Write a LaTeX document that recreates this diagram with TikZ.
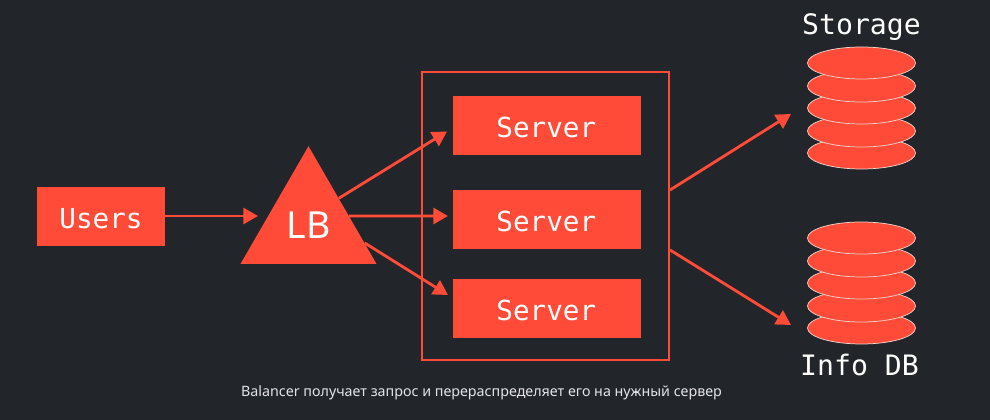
\documentclass[tikz,border=0pt]{standalone}
\usepackage{fontspec}
\usetikzlibrary{arrows.meta,shapes.geometric}
\setmainfont{Noto Sans}
\newfontfamily\labelfont{DejaVu Sans Mono}[Scale=1]
\definecolor{bgc}{HTML}{22262A}
\definecolor{red1}{HTML}{FF4B37}
\definecolor{rim}{HTML}{F4D3CC}
\definecolor{capc}{HTML}{E4E4E4}
\tikzset{
  x=0.75pt,y=-0.75pt,
  boxn/.style={fill=red1,draw=none,minimum width=141pt,minimum height=44.25pt,inner sep=0pt,text=white,text height=17.6pt,text depth=0pt,font=\labelfont\fontsize{20.7}{24}\selectfont},
  disk/.style={ellipse,fill=red1,draw=rim,line width=0.55pt,minimum width=81pt,minimum height=24pt,inner sep=0pt},
  conn/.style={draw=red1,line width=2.1pt,-{Triangle[length=11pt,width=12pt]}},
  title/.style={text=white,font=\labelfont\fontsize{21.1}{24}\selectfont,inner sep=0pt},
}
\begin{document}
\begin{tikzpicture}
\path[fill=bgc] (0,0) rectangle (990,420);
\useasboundingbox (0,0) rectangle (990,420);
\node[draw=red1,line width=1.6pt,minimum width=185.25pt,minimum height=216pt,inner sep=0pt] (frame) at (545.5,216) {};
\node[boxn,minimum width=96pt] (users) at (101,216.5) {Users};
\node[boxn] (s1) at (547,125.5) {\kern-1pt Server};
\node[boxn] (s2) at (547,219.5) {\kern-1pt Server};
\node[boxn] (s3) at (547,308.5) {\kern-1pt Server};
\node[regular polygon,regular polygon sides=3,fill=red1,minimum size=117.8pt,inner sep=0pt,text=white,font=\fontsize{28}{30}\selectfont] (lb) at (308.5,224.7) {LB};
\foreach \n/\y in {e/153,d/131,c/108,b/86,a/63} \node[disk] (st\n) at (861.5,\y) {};
\foreach \n/\y in {e/328,d/306,c/283,b/261,a/238} \node[disk] (db\n) at (861.5,\y) {};
\node[title] (stl) at (861.5,27) {Storage};
\node[title] (dbl) at (859.5,365) {Info DB};
\node[text=capc,inner sep=0pt,font=\fontsize{10.72}{12}\selectfont] (cap) at (481.5,393) {Balancer получает запрос и перераспределяет его на нужный сервер};
\coordinate (t0) at (258,216);
\coordinate (t1) at (447,131.5);
\coordinate (t2) at (448,216);
\coordinate (t3) at (448,295);
\coordinate (t4) at (791,114);
\coordinate (t5) at (791,325);
\draw[conn] (users.east |- t0) -- (t0);
\draw[conn] (lb.41) -- (t1);
\draw[conn] (lb.12.3) -- (t2);
\draw[conn] (lb.-18.3) -- (t3);
\draw[conn] (frame.east |- 0,190) -- (t4);
\draw[conn] (frame.east |- 0,250) -- (t5);
\end{tikzpicture}
\end{document}
